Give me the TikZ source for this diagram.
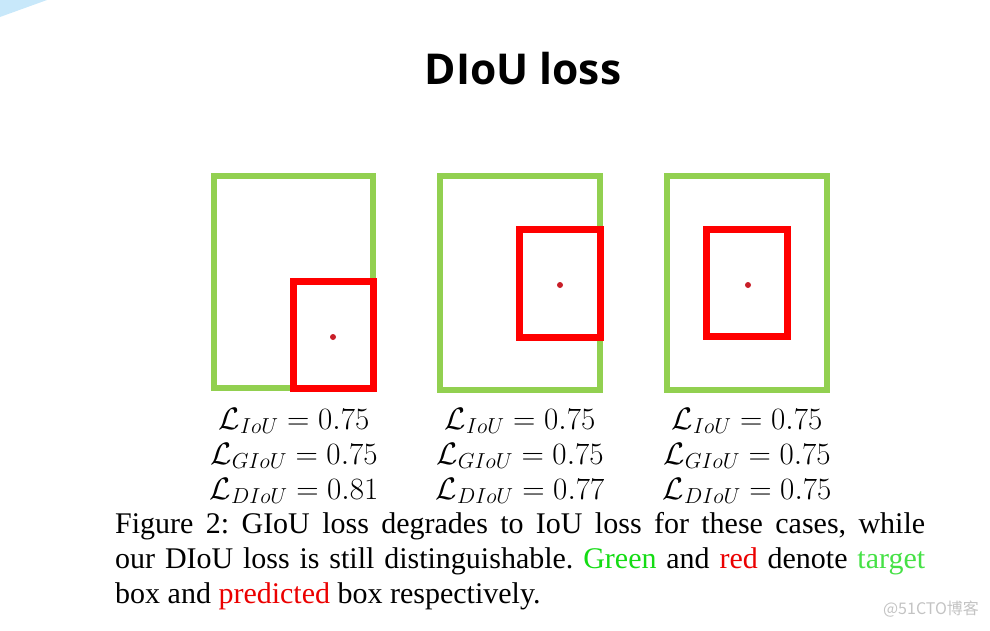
\RequirePackage{fix-cm}
\documentclass[tikz,border=0pt]{standalone}
\usepackage{fontspec}
\setmainfont{Liberation Serif}
\newfontfamily\titlefont{Open Sans}
\newfontfamily\cjkfont{Noto Sans CJK SC}

\definecolor{targetgreen}{RGB}{146,208,80}
\definecolor{predred}{RGB}{255,0,0}
\definecolor{dotred}{RGB}{200,30,40}
\definecolor{capgreen}{RGB}{20,220,20}
\definecolor{lightgreen}{RGB}{70,225,70}
\definecolor{capred}{RGB}{235,0,0}
\definecolor{cornerblue}{RGB}{200,232,250}
\definecolor{markgray}{RGB}{195,195,195}

\begin{document}
\begin{tikzpicture}[
    x=1pt, y=-1pt,
    target/.style={draw=targetgreen, line width=6pt},
    predicted/.style={draw=predred, line width=7pt},
    centre/.style={circle, fill=dotred, inner sep=0pt, minimum size=6pt},
    loss/.style={font=\fontsize{31}{35}\selectfont, align=center, inner sep=0pt}
]

% Per-case x positions of the loss values
\def\ca{294}
\def\cb{520}
\def\cc{747}
\def\ly{456}

\useasboundingbox (0,0) rectangle (990,630);
\fill[cornerblue] (0,0) -- (47,0) -- (0,17) -- cycle;

% title
\node (title) at (523,69) {\titlefont\bfseries\fontsize{42.5}{50}\selectfont DIoU loss};

% case 1: corner overlap
\draw[target]    (214,176) rectangle (373,388);
\draw[predicted] (293,281) rectangle (373,388);
\node[centre] (c1) at (333,337) {};

% case 2: right edge overlap
\draw[target]    (440,176) rectangle (600,390);
\draw[predicted] (519,229) rectangle (600,337);
\node[centre] (c2) at (560,285) {};

% case 3: centred
\draw[target]    (667,176) rectangle (827,390);
\draw[predicted] (706,229) rectangle (787,336);
\node[centre] (c3) at (748,285) {};

% loss values
\node[loss] (l1) at (\ca,\ly) {$\mathcal{L}_{IoU}=0.75$\\$\mathcal{L}_{GIoU}=0.75$\\$\mathcal{L}_{DIoU}=0.81$};
\node[loss] (l2) at (\cb,\ly) {$\mathcal{L}_{IoU}=0.75$\\$\mathcal{L}_{GIoU}=0.75$\\$\mathcal{L}_{DIoU}=0.77$};
\node[loss] (l3) at (\cc,\ly) {$\mathcal{L}_{IoU}=0.75$\\$\mathcal{L}_{GIoU}=0.75$\\$\mathcal{L}_{DIoU}=0.75$};

% caption
\node[anchor=north west, inner sep=0pt, text width=810pt, align=justify,
      font=\fontsize{30}{35}\selectfont\frenchspacing] (caption) at (115,512)
  {Figure 2: GIoU loss degrades to IoU loss for these cases, while\linebreak
   our DIoU loss is still distinguishable. \textcolor{capgreen}{Green} and \textcolor{capred}{red} denote \textcolor{lightgreen}{target}\linebreak
   box and \textcolor{capred}{predicted} box respectively.};

% watermark
\node[text=markgray] (mark) at (931,609) {\cjkfont\fontsize{16}{16}\selectfont @51CTO博客};

\end{tikzpicture}
\end{document}
